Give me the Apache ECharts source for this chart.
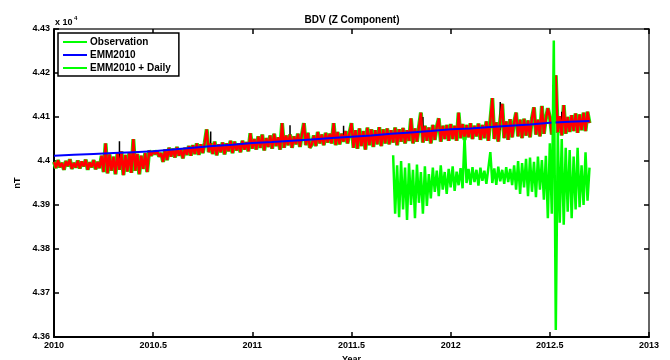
<!DOCTYPE html>
<html>
<head>
<meta charset="utf-8">
<title>BDV (Z Component)</title>
<script src="https://cdn.jsdelivr.net/npm/echarts@6/dist/echarts.min.js"></script>
<style>
  html, body { margin: 0; padding: 0; background: #fff; }
  #chart { width: 670px; height: 360px; }
</style>
</head>
<body>
<div id="chart"></div>
<script>
// Z component at BDV, nT. Observation sampled every 0.01 yr from 2010.00.
const obsStart = 2010.0;
const obsStep = 0.01;
const observation = [
  43998, 43984, 44002, 43986, 43996, 43980, 44000, 43988, 44004, 43982,
  43996, 43985, 44001, 43983, 43999, 43988, 44003, 43980, 43997, 43986,
  44002, 43981, 43998, 43984, 44012, 43975, 44040, 43972, 44015, 43978,
  44010, 43970, 44018, 43980, 44022, 43968, 44014, 43976, 44020, 43973,
  44050, 43978, 44016, 43970, 44012, 43982, 44018, 43975, 44024, 44012,
  44022, 44016, 44023, 44010, 44018, 43998, 44026, 44002, 44030, 44010,
  44028, 44008, 44032, 44012, 44026, 44006, 44030, 44014, 44034, 44012,
  44036, 44016, 44040, 44014, 44038, 44018, 44042, 44072, 44020, 44040,
  44016, 44044, 44013, 44038, 44020, 44042, 44015, 44040, 44022, 44046,
  44018, 44044, 44024, 44040, 44020, 44046, 44026, 44043, 44022, 44063,
  44028, 44050, 44026, 44056, 44030, 44060, 44024, 44052, 44032, 44058,
  44028, 44062, 44034, 44054, 44026, 44086, 44030, 44058, 44036, 44060,
  44030, 44056, 44038, 44062, 44032, 44060, 44086, 44036, 44064, 44030,
  44038, 44058, 44034, 44066, 44040, 44060, 44036, 44064, 44042, 44062,
  44040, 44086, 44036, 44066, 44038, 44062, 44044, 44068, 44040, 44064,
  44086, 44030, 44070, 44028, 44074, 44034, 44068, 44026, 44076, 44036,
  44072, 44032, 44070, 44038, 44077, 44034, 44072, 44040, 44074, 44038,
  44070, 44042, 44076, 44036, 44072, 44044, 44075, 44040, 44070, 44046,
  44097, 44040, 44074, 44044, 44078, 44110, 44042, 44080, 44046, 44076,
  44040, 44082, 44048, 44078, 44097, 44044, 44080, 44050, 44082, 44046,
  44084, 44050, 44080, 44046, 44110, 44052, 44084, 44048, 44082, 44054,
  44086, 44050, 44080, 44056, 44085, 44048, 44082, 44052, 44090, 44046,
  44092, 44143, 44050, 44088, 44044, 44094, 44130, 44052, 44090, 44048,
  44095, 44054, 44088, 44110, 44056, 44094, 44052, 44096, 44058, 44092,
  44054, 44098, 44122, 44060, 44094, 44056, 44125, 44062, 44096, 44120,
  44100, 44060, 44098, 44195, 44064, 44102, 44058, 44127, 44062, 44100,
  44066, 44104, 44068, 44108, 44064, 44106, 44070, 44110, 44068, 44112,
  44086
];

// Isolated raw-data excursions (year, band level, peak)
const spikeYears = [2010.33, 2010.79, 2011.19, 2011.46, 2011.86, 2012.25, 2012.515, 2012.56];
const spikeBase  = [43995, 44028, 44045, 44050, 44060, 44070, 44080, 44082];
const spikePeak  = [44045, 44067, 44081, 44080, 44100, 44134, 44172, 44112];

// EMM2010 main-field model, every 0.1 yr from 2010.0
const emmStart = 2010.0;
const emmStep = 0.1;
const emm2010 = [
  44012, 44014, 44016, 44018, 44020, 44022, 44026, 44030, 44034, 44037,
  44041, 44043, 44046, 44049, 44052, 44055, 44058, 44062, 44065, 44068,
  44072, 44074, 44077, 44080, 44083, 44087, 44089, 44091
];

// EMM2010 + daily variation, every 0.01 yr from 2011.71
const dailyStart = 2011.71;
const dailyStep = 0.01;
const emmDaily = [
  44013, 43880, 43990, 43872, 44000, 43890, 43985, 43866, 43995,
  43900, 43980, 43870, 43992, 43905, 43975, 43880, 43988, 43898, 43970,
  43915, 43985, 43930, 43978, 43920, 43990, 43935, 43975, 43925, 43982,
  43940, 43988, 43932, 43976, 43945, 43984, 43938,
  44055, 43950, 43982, 43946, 43986, 43952, 43980, 43944, 43985, 43955,
  43978, 43948, 43984, 44020, 43950, 43983, 43946, 43987, 43954, 43980,
  43948, 43986, 43952, 43982, 43945,
  43990, 43935, 44000, 43925, 43995, 43940, 44005, 43920, 44008, 43930,
  43998, 43918, 44010, 43935, 44002, 43912, 44012,
  43870, 44040, 43880, 44274, 43616, 44065, 43860, 44050, 43855, 44030,
  43885, 44025, 43870, 44010, 43890, 44030, 43895, 43990, 43900, 44020, 43910, 43985
];

const yTicks = { min: 43600, max: 44300, step: 100 };
const xTicks = { min: 2010, max: 2013, step: 0.5 };

function toPairs(start, step, values) {
  return values.map((v, i) => [Number((start + i * step).toFixed(4)), v]);
}
function spikePairs() {
  const out = [];
  spikeYears.forEach((yr, i) => {
    out.push([yr, spikeBase[i]], [yr, spikePeak[i]], [yr, '-']);
  });
  return out;
}

const FONT = '"Liberation Sans", Arial, sans-serif';
const labelStyle = { color: '#000', fontFamily: FONT, fontWeight: 'bold', fontSize: 9 };

const chart = echarts.init(document.getElementById('chart'), null, { renderer: 'canvas' });

const baseX = {
  type: 'value', min: xTicks.min, max: xTicks.max, interval: xTicks.step,
  splitLine: { show: false },
  axisTick: { inside: true, length: 5, lineStyle: { color: '#000', width: 1.5 } }
};
const baseY = {
  type: 'value', min: yTicks.min, max: yTicks.max, interval: yTicks.step,
  splitLine: { show: false },
  axisTick: { inside: true, length: 5, lineStyle: { color: '#000', width: 1.5 } }
};

chart.setOption({
  animation: false,
  backgroundColor: '#fff',
  grid: { left: 54, top: 29, right: 21, bottom: 23, containLabel: false, outerBoundsMode: 'none' },
  graphic: [
    { type: 'text', x: 352, y: 20, style: { text: 'BDV (Z Component)', fill: '#000',
      font: 'bold 10px ' + FONT, textAlign: 'center', textVerticalAlign: 'middle' } },
    { type: 'text', x: 55, y: 23, style: { text: 'x 10', fill: '#000',
      font: 'bold 9px ' + FONT, textAlign: 'left', textVerticalAlign: 'middle' } },
    { type: 'text', x: 74, y: 18, style: { text: '4', fill: '#000',
      font: 'bold 6px ' + FONT, textAlign: 'left', textVerticalAlign: 'middle' } }
  ],
  legend: {
    orient: 'vertical', left: 58, top: 33,
    data: ['Observation', 'EMM2010', 'EMM2010 + Daily'],
    icon: 'rect', itemWidth: 24, itemHeight: 2, itemGap: 3,
    padding: [4, 8, 3, 5],
    borderColor: '#000', borderWidth: 1.5, backgroundColor: '#fff',
    textStyle: { color: '#000', fontFamily: FONT, fontWeight: 'bold', fontSize: 10, padding: [0, 0, 0, -2] },
    selectedMode: false
  },
  xAxis: [
    Object.assign({}, baseX, {
      position: 'bottom',
      name: 'Year', nameLocation: 'middle', nameGap: 13,
      nameTextStyle: labelStyle,
      axisLine: { lineStyle: { color: '#000', width: 2 } },
      axisLabel: Object.assign({}, labelStyle, { margin: 4, showMinLabel: true, showMaxLabel: true,
        formatter: v => String(Number(v.toFixed(1))) })
    }),
    Object.assign({}, baseX, {
      position: 'top',
      axisLine: { lineStyle: { color: '#333', width: 1.5 } },
      axisLabel: { show: false }
    })
  ],
  yAxis: [
    Object.assign({}, baseY, {
      position: 'left',
      name: 'nT', nameLocation: 'middle', nameGap: 24,
      nameTextStyle: labelStyle,
      axisLine: { lineStyle: { color: '#000', width: 2 } },
      axisLabel: Object.assign({}, labelStyle, { margin: 4, showMinLabel: true, showMaxLabel: true,
        formatter: v => String(Number((v / 1e4).toFixed(2))) })
    }),
    Object.assign({}, baseY, {
      position: 'right',
      axisLine: { lineStyle: { color: '#333', width: 1.5 } },
      axisLabel: { show: false }
    })
  ],
  series: [
    {
      name: 'Observation', type: 'line', data: toPairs(obsStart, obsStep, observation),
      showSymbol: false, symbol: 'none', sampling: false, z: 2,
      itemStyle: { color: '#00ff00' },
      lineStyle: { color: '#00ff00', width: 4 }
    },
    {
      name: 'Raw', type: 'line', data: spikePairs(), connectNulls: false,
      showSymbol: false, symbol: 'none', z: 3,
      itemStyle: { color: '#000' },
      lineStyle: { color: '#000', width: 1.5 }
    },
    {
      name: 'Observation (filtered)', type: 'line', data: toPairs(obsStart, obsStep, observation),
      showSymbol: false, symbol: 'none', z: 4,
      itemStyle: { color: '#ff0000' },
      lineStyle: { color: '#ff0000', width: 2.5 }
    },
    {
      name: 'EMM2010', type: 'line', data: toPairs(emmStart, emmStep, emm2010),
      showSymbol: false, symbol: 'none', z: 5,
      itemStyle: { color: '#0000ff' },
      lineStyle: { color: '#0000ff', width: 2 }
    },
    {
      name: 'EMM2010 + Daily', type: 'line', data: toPairs(dailyStart, dailyStep, emmDaily),
      showSymbol: false, symbol: 'none', z: 6,
      itemStyle: { color: '#00ff00' },
      lineStyle: { color: '#00ff00', width: 2.5 }
    }
  ]
});
</script>
</body>
</html>
